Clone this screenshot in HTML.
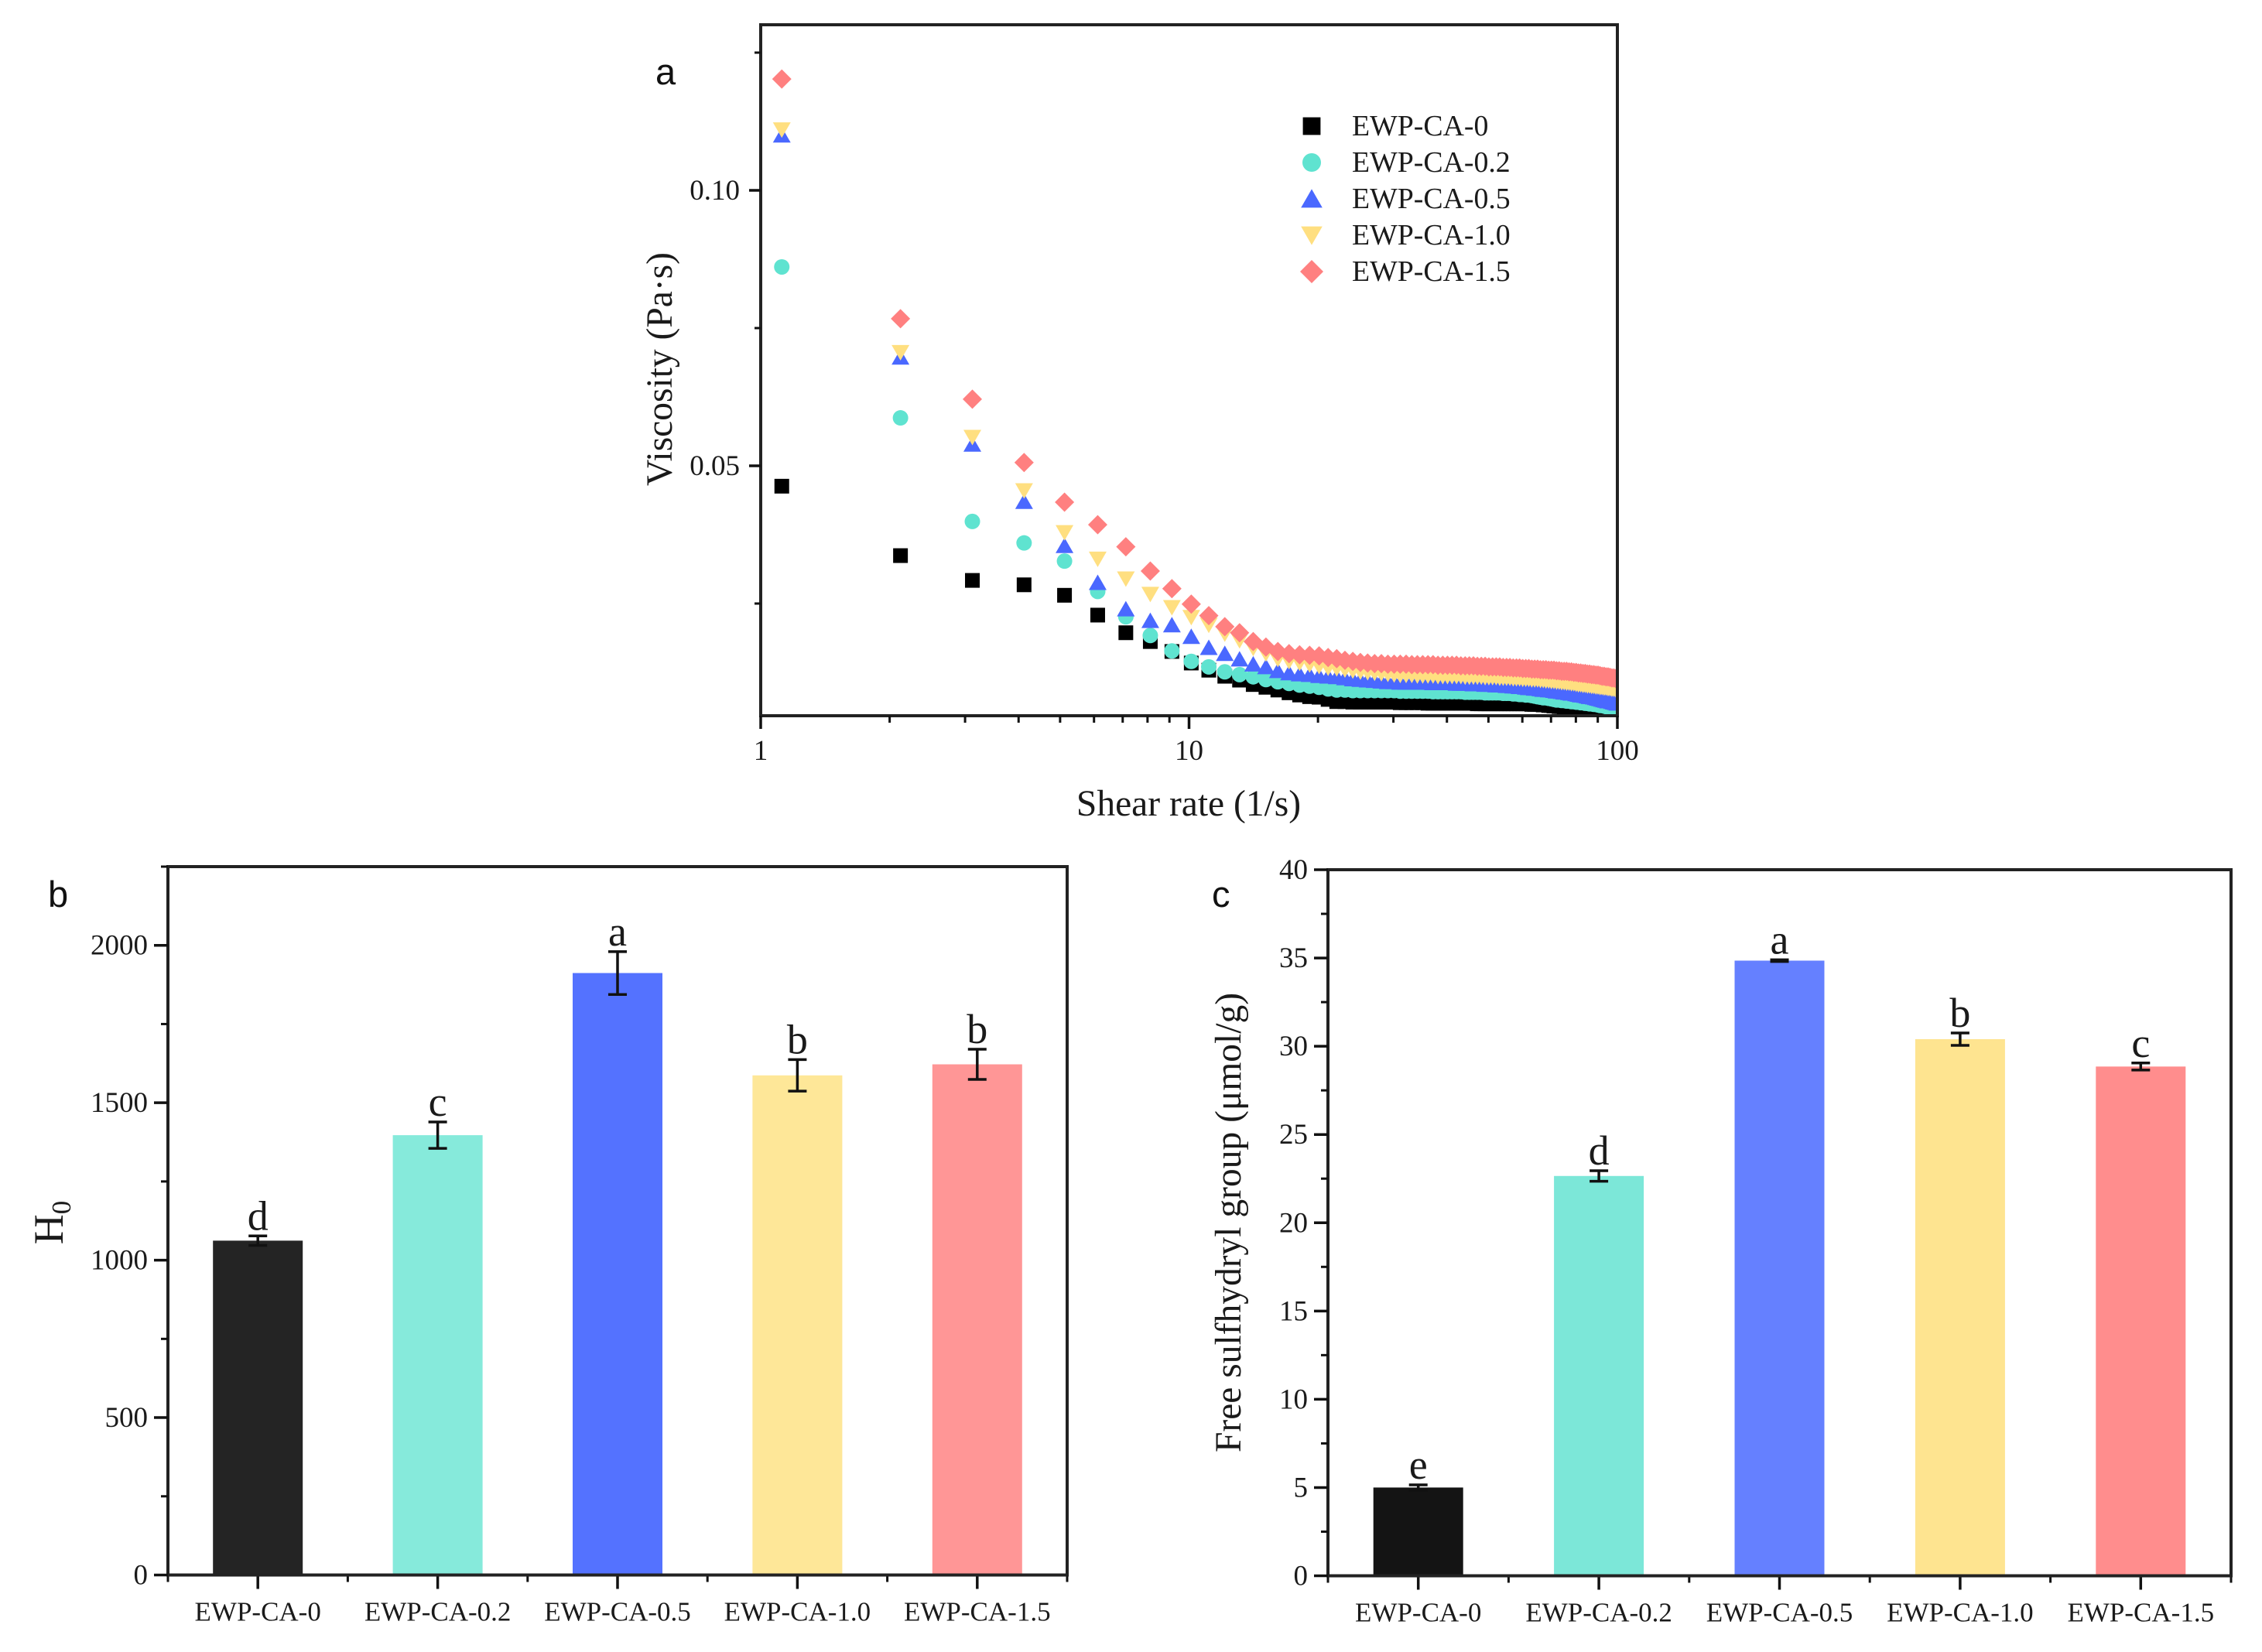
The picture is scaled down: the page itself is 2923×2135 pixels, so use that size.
<!DOCTYPE html>
<html lang="en">
<head>
<meta charset="utf-8">
<title>EWP-CA viscosity, H0 and free sulfhydryl charts</title>
<style>
html,body{margin:0;padding:0;background:#fff;width:2923px;height:2135px;overflow:hidden}
svg{display:block}
text{font-family:"Liberation Serif",serif;fill:#1a1a1a}
.panel{font-family:"Liberation Sans",sans-serif;font-size:47px;fill:#111}
.title{font-size:47.5px}
</style>
</head>
<body>
<svg id="chart" width="2923" height="2135" viewBox="0 0 2923 2135" xmlns="http://www.w3.org/2000/svg">
  <defs><clipPath id="clip-a"><rect x="983" y="32" width="1107" height="895"/></clipPath></defs>
  <rect width="2923" height="2135" fill="#fff"/>
  <g id="panel-a"></g>
  <g id="panel-b"></g>
  <g id="panel-c"></g>
  <text class="panel" x="847" y="109">a</text>
  <text class="panel" x="62" y="1172">b</text>
  <text class="panel" x="1566" y="1172">c</text>
  <text class="title" x="1536" y="1054" text-anchor="middle">Shear rate (1/s)</text>
  <text class="title" text-anchor="middle" transform="translate(868,477) rotate(-90)">Viscosity (Pa·s)</text>
  <text font-size="54" text-anchor="middle" transform="translate(81,1580) rotate(-90)">H<tspan font-size="35" dy="10">0</tspan></text>
  <text class="title" text-anchor="middle" transform="translate(1603,1580) rotate(-90)">Free sulfhydryl group (μmol/g)</text>
</svg>
<script>
const seriesNames = ['EWP-CA-0','EWP-CA-0.2','EWP-CA-0.5','EWP-CA-1.0','EWP-CA-1.5'];
const shearRates = [1.12,2.12,3.12,4.12,5.12,6.12,7.12,8.12,9.12,10.12,11.12,12.12,13.12,14.12,15.12,16.12,17.12,18.12,19.12,20.12,21.12,22.12,23.12,24.12,25.12,26.12,27.12,28.12,29.12,30.12,31.12,32.12,33.12,34.12,35.12,36.12,37.12,38.12,39.12,40.12,41.12,42.12,43.12,44.12,45.12,46.12,47.12,48.12,49.12,50.12,51.12,52.12,53.12,54.12,55.12,56.12,57.12,58.12,59.12,60.12,61.12,62.12,63.12,64.12,65.12,66.12,67.12,68.12,69.12,70.12,71.12,72.12,73.12,74.12,75.12,76.12,77.12,78.12,79.12,80.12,81.12,82.12,83.12,84.12,85.12,86.12,87.12,88.12,89.12,90.12,91.12,92.12,93.12,94.12,95.12,96.12,97.12,98.12,99.12,100];
const viscosity0 = [.0463,.0337,.0292,.0284,.0265,.0229,.0197,.0181,.0163,.0142,.0129,.0118,.0111,.0103,.0098,.0093,.0088,.0084,.0081,.0080,.0076,.0072,.0072,.0071,.0071,.0071,.0071,.0071,.0071,.0071,.0070,.0070,.0070,.0070,.0070,.0069,.0069,.0069,.0069,.0069,.0069,.0069,.0069,.0069,.0069,.0069,.0068,.0068,.0068,.0068,.0068,.0068,.0068,.0068,.0068,.0068,.0068,.0068,.0068,.0068,.0068,.0068,.0067,.0067,.0067,.0067,.0066,.0066,.0065,.0065,.0064,.0064,.0063,.0063,.0062,.0062,.0061,.0061,.0060,.0060,.0059,.0058,.0058,.0057,.0056,.0056,.0055,.0054,.0054,.0053,.0052,.0052,.0051,.0050,.0050,.0049,.0048,.0048,.0047,.0046];
const viscosity02 = [.0861,.0587,.0399,.0360,.0327,.0272,.0226,.0192,.0164,.0145,.0135,.0126,.0121,.0117,.0112,.0108,.0105,.0102,.0100,.0098,.0095,.0093,.0093,.0092,.0092,.0092,.0092,.0092,.0092,.0092,.0091,.0091,.0091,.0091,.0091,.0091,.0090,.0090,.0090,.0090,.0090,.0090,.0090,.0089,.0089,.0089,.0089,.0089,.0088,.0088,.0088,.0088,.0088,.0087,.0087,.0087,.0086,.0086,.0085,.0085,.0084,.0084,.0083,.0082,.0081,.0080,.0079,.0079,.0078,.0077,.0076,.0075,.0075,.0074,.0074,.0073,.0073,.0072,.0072,.0071,.0071,.0070,.0070,.0069,.0069,.0068,.0068,.0067,.0067,.0066,.0065,.0065,.0064,.0063,.0063,.0062,.0061,.0061,.0060,.0059];
const viscosity05 = [.1100,.0697,.0539,.0435,.0355,.0288,.0240,.0219,.0211,.0190,.0170,.0159,.0149,.0140,.0135,.0128,.0124,.0122,.0121,.0119,.0118,.0117,.0115,.0113,.0112,.0111,.0110,.0109,.0108,.0108,.0107,.0107,.0107,.0107,.0107,.0107,.0106,.0106,.0106,.0106,.0106,.0105,.0105,.0105,.0105,.0104,.0104,.0104,.0103,.0103,.0103,.0102,.0102,.0102,.0101,.0101,.0100,.0100,.0099,.0099,.0098,.0097,.0097,.0096,.0096,.0095,.0094,.0094,.0093,.0093,.0092,.0091,.0091,.0090,.0089,.0089,.0088,.0087,.0087,.0086,.0085,.0084,.0084,.0083,.0082,.0081,.0081,.0080,.0079,.0078,.0077,.0076,.0075,.0074,.0073,.0073,.0072,.0071,.0070,.0069];
const viscosity10 = [.1110,.0706,.0552,.0455,.0379,.0331,.0295,.0267,.0243,.0225,.0211,.0195,.0183,.0169,.0159,.0149,.0145,.0142,.0139,.0136,.0133,.0132,.0130,.0128,.0126,.0125,.0124,.0123,.0122,.0121,.0120,.0120,.0120,.0119,.0119,.0119,.0119,.0118,.0118,.0118,.0118,.0118,.0118,.0117,.0117,.0117,.0117,.0117,.0116,.0116,.0116,.0116,.0115,.0115,.0115,.0115,.0114,.0114,.0114,.0113,.0113,.0113,.0112,.0112,.0112,.0111,.0111,.0110,.0110,.0109,.0109,.0108,.0108,.0107,.0107,.0106,.0106,.0105,.0105,.0104,.0103,.0103,.0102,.0102,.0101,.0101,.0100,.0100,.0099,.0099,.0098,.0098,.0097,.0097,.0096,.0096,.0095,.0095,.0094,.0094];
const viscosity15 = [.1202,.0767,.0621,.0506,.0434,.0393,.0353,.0309,.0277,.0249,.0228,.0208,.0197,.0181,.0171,.0163,.0159,.0157,.0156,.0155,.0152,.0150,.0147,.0145,.0143,.0142,.0141,.0141,.0140,.0140,.0140,.0140,.0139,.0139,.0139,.0139,.0139,.0138,.0138,.0138,.0138,.0138,.0137,.0137,.0137,.0137,.0136,.0136,.0136,.0135,.0135,.0135,.0135,.0134,.0134,.0134,.0133,.0133,.0133,.0132,.0132,.0132,.0131,.0131,.0131,.0130,.0130,.0130,.0129,.0129,.0129,.0128,.0128,.0127,.0127,.0127,.0126,.0126,.0125,.0125,.0124,.0124,.0123,.0123,.0122,.0122,.0121,.0121,.0120,.0120,.0119,.0118,.0118,.0117,.0117,.0116,.0115,.0115,.0114,.0114];
const viscosityTicks = [0.05,0.10];
const viscosityTickLabels = ['0.05','0.10'];
const viscosityMinorTicks = [0.025,0.075,0.125];
const shearMajorTicks = [1,10,100];
const shearTickLabels = ['1','10','100'];
const shearMinorTicks = [2,3,4,5,6,7,8,9,20,30,40,50,60,70,80,90];
const h0Values = [1062,1397,1912,1587,1622];
const h0Errors = [15,42,68,50,48];
const h0Letters = ['d','c','a','b','b'];
const h0Ticks = [0,500,1000,1500,2000];
const h0MinorTicks = [250,750,1250,1750,2250];
const thiolValues = [5.0,22.65,34.85,30.4,28.85];
const thiolErrors = [0.15,0.3,0.05,0.35,0.2];
const thiolLetters = ['e','d','a','b','c'];
const thiolTicks = [0,5,10,15,20,25,30,35,40];
const thiolMinorTicks = [2.5,7.5,12.5,17.5,22.5,27.5,32.5,37.5];
const markerColors = ['#000000','#5fe3d0','#4a68ff','#ffdf80','#ff8080'];
const h0Colors = ['#242424','#86eadb','#5472ff','#fee798','#ff9696'];
const thiolColors = ['#141414','#7ce7d8','#6580ff','#fee490','#ff8d8d'];

const NS = 'http://www.w3.org/2000/svg';
function mk(tag, attrs, parent) {
  const e = document.createElementNS(NS, tag);
  for (const k in attrs) e.setAttribute(k, attrs[k]);
  parent.appendChild(e);
  return e;
}
function line(x1, y1, x2, y2, w, parent) {
  return mk('line', {x1: x1, y1: y1, x2: x2, y2: y2, stroke: '#111', 'stroke-width': w}, parent);
}
function label(str, x, y, size, anchor, parent) {
  const e = mk('text', {x: x, y: y, 'font-size': size, 'text-anchor': anchor}, parent);
  e.textContent = str;
  return e;
}
function marker(kind, cx, cy, color, parent, k) {
  if (kind === 0) return mk('rect', {x: cx - 9.5 * k, y: cy - 9.5 * k, width: 19 * k, height: 19 * k, fill: color}, parent);
  if (kind === 1) return mk('circle', {cx: cx, cy: cy, r: 10 * k, fill: color}, parent);
  if (kind === 2) return mk('polygon', {points: (cx - 11.5 * k) + ',' + (cy + 9.5 * k) + ' ' + (cx + 11.5 * k) + ',' + (cy + 9.5 * k) + ' ' + cx + ',' + (cy - 10.5 * k), fill: color}, parent);
  if (kind === 3) return mk('polygon', {points: (cx - 11.5 * k) + ',' + (cy - 9.5 * k) + ' ' + (cx + 11.5 * k) + ',' + (cy - 9.5 * k) + ' ' + cx + ',' + (cy + 10.5 * k), fill: color}, parent);
  return mk('polygon', {points: (cx - 12.5 * k) + ',' + cy + ' ' + cx + ',' + (cy - 12.5 * k) + ' ' + (cx + 12.5 * k) + ',' + cy + ' ' + cx + ',' + (cy + 12.5 * k), fill: color}, parent);
}

/* panel a */
const A = {left: 983, right: 2090, top: 32, bottom: 925};
function xA(v) { return A.left + Math.log10(v) / 2 * (A.right - A.left); }
function yA(v) { return 602 - (v - 0.05) * 7120; }
const gA = document.getElementById('panel-a');
const allViscosity = [viscosity0, viscosity02, viscosity05, viscosity10, viscosity15];
const clipG = mk('g', {'clip-path': 'url(#clip-a)'}, gA);


allViscosity.forEach(function (vals, s) {
  const sg = mk('g', {}, clipG);
  
  
  vals.forEach(function (v, i) {
    const m = marker(s, xA(shearRates[i]), yA(v), markerColors[s], sg, 1);
    
    
  });
});
const frameA = mk('rect', {x: A.left, y: A.top, width: A.right - A.left, height: A.bottom - A.top, fill: 'none', stroke: '#222', 'stroke-width': 4}, gA);


viscosityTicks.forEach(function (v, i) {
  const t = line(A.left - 15, yA(v), A.left, yA(v), 3.5, gA);
  
  
  const l = label(viscosityTickLabels[i], 956, yA(v) + 12, 37, 'end', gA);
  
  
});
viscosityMinorTicks.forEach(function (v) {
  const t = line(A.left - 8, yA(v), A.left, yA(v), 3, gA);
  
  
});
shearMajorTicks.forEach(function (v, i) {
  const t = line(xA(v), A.bottom, xA(v), A.bottom + 17, 3.5, gA);
  
  
  const l = label(shearTickLabels[i], xA(v), 982, 37, 'middle', gA);
  
  
});
shearMinorTicks.forEach(function (v) {
  const t = line(xA(v), A.bottom, xA(v), A.bottom + 9, 3, gA);
  
  
});
const legend = mk('g', {}, gA);


seriesNames.forEach(function (name, i) {
  const ly = 163 + i * 47;
  const m = marker(i, 1695, ly, markerColors[i], legend, 1.2);
  
  
  const l = label(name, 1747, ly + 12, 37.8, 'start', legend);
  
  
});

/* bar panels */
function barPanel(g, box, maxV, values, errors, letters, colors, ticks, minorTicks, prefix) {
  const band = (box.right - box.left) / values.length;
  const xC = function (i) { return box.left + band * (i + 0.5); };
  const yV = function (v) { return box.bottom - v / maxV * (box.bottom - box.top); };
  values.forEach(function (v, i) {
    const b = mk('rect', {x: xC(i) - 58, y: yV(v), width: 116, height: box.bottom - yV(v), fill: colors[i]}, g);
    
    
    const top = yV(v + errors[i]);
    const bot = yV(v - errors[i]);
    const stem = line(xC(i), top, xC(i), bot, 3.5, g);
    
    
    const capT = line(xC(i) - 12, top, xC(i) + 12, top, 3.5, g);
    
    
    const capB = line(xC(i) - 12, bot, xC(i) + 12, bot, 3.5, g);
    
    
    const sig = label(letters[i], xC(i), top - 8, 54, 'middle', g);
    
    
    const tick = line(xC(i), box.bottom, xC(i), box.bottom + 18, 3.5, g);
    
    
    const cat = label(seriesNames[i], xC(i), box.bottom + 59, 35, 'middle', g);
    
    
  });
  for (let i = 0; i <= values.length; i++) {
    const t = line(box.left + band * i, box.bottom, box.left + band * i, box.bottom + 9, 3, g);
    
    
  }
  const frame = mk('rect', {x: box.left, y: box.top, width: box.right - box.left, height: box.bottom - box.top, fill: 'none', stroke: '#222', 'stroke-width': 4}, g);
  
  
  ticks.forEach(function (v) {
    const t = line(box.left - 18, yV(v), box.left, yV(v), 3.5, g);
    
    
    const l = label(String(v), box.left - 26, yV(v) + 12, 37, 'end', g);
    
    
  });
  minorTicks.forEach(function (v) {
    const t = line(box.left - 9, yV(v), box.left, yV(v), 3, g);
    
    
  });
}
barPanel(document.getElementById('panel-b'), {left: 217, right: 1379, top: 1120, bottom: 2035.5}, 2250, h0Values, h0Errors, h0Letters, h0Colors, h0Ticks, h0MinorTicks, 'h0');
barPanel(document.getElementById('panel-c'), {left: 1716, right: 2883, top: 1124, bottom: 2036.5}, 40, thiolValues, thiolErrors, thiolLetters, thiolColors, thiolTicks, thiolMinorTicks, 'sulfhydryl');
</script>
</body>
</html>
